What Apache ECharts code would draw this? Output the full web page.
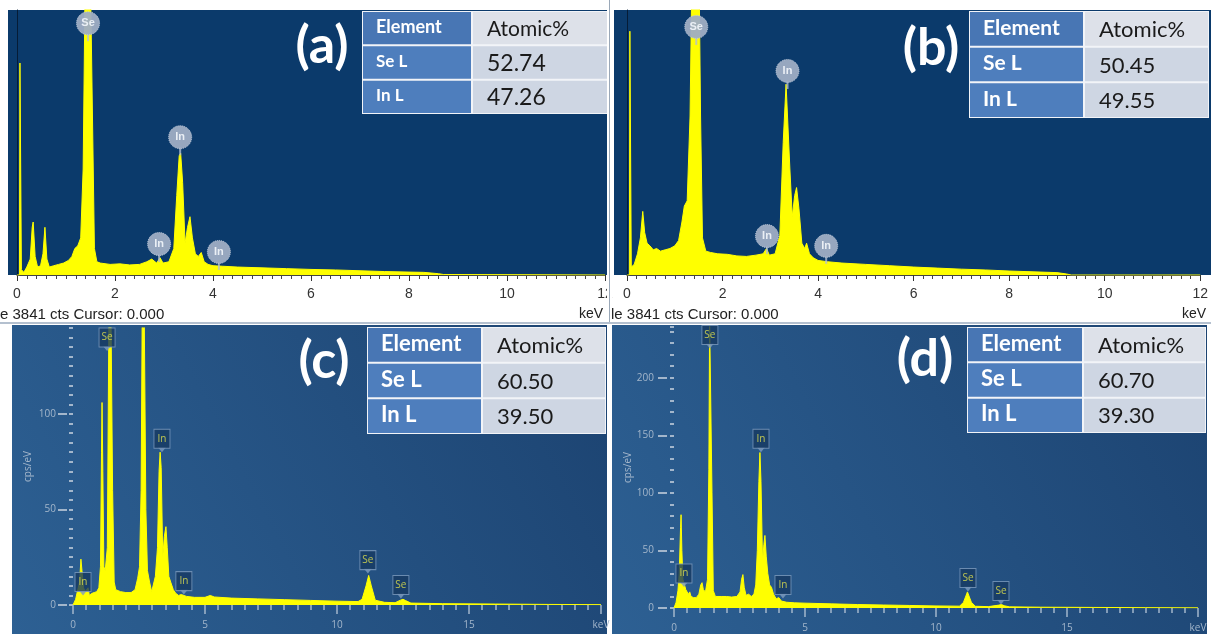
<!DOCTYPE html>
<html>
<head>
<meta charset="utf-8">
<title>EDS spectra (a)-(d)</title>
<script src="https://cdn.jsdelivr.net/npm/echarts@6.0.0/dist/echarts.min.js"></script>
<style>
    html, body { margin: 0; padding: 0; background: #fff; }
    #main { width: 1211px; height: 634px; }
</style>
</head>
<body>
<div id="main"></div>
<script>
    // spectra: [keV, counts]
    // (a) and (b): relative counts, 100 = top of the plot
    var spectrumA = [
        [0, 0], [0.05, 0], [0.06, 80], [0.08, 80], [0.09, 2], [0.14, 1], [0.2, 3], [0.27, 6], [0.31, 18], [0.33, 20],
        [0.37, 7], [0.42, 3], [0.48, 3.5], [0.53, 8], [0.57, 18], [0.61, 6], [0.66, 3], [0.75, 3.5],
        [0.85, 4], [0.95, 4.5], [1.05, 5.5], [1.12, 7], [1.18, 10], [1.24, 11], [1.3, 14], [1.35, 40],
        [1.39, 110], [1.5, 110], [1.54, 60], [1.58, 10], [1.63, 5], [1.7, 4.5], [1.9, 4], [2.1, 4.2],
        [2.3, 3.8], [2.5, 4], [2.65, 5], [2.75, 6], [2.85, 4.5], [2.92, 6.5], [2.98, 4.5], [3.1, 5],
        [3.2, 10], [3.26, 30], [3.31, 45], [3.34, 46], [3.38, 35], [3.43, 12], [3.48, 18], [3.53, 22],
        [3.58, 14], [3.64, 8], [3.7, 7], [3.76, 8.5], [3.82, 5], [3.9, 4], [4.0, 3.5], [4.2, 3.3],
        [4.5, 3], [5, 2.7], [5.5, 2.4], [6, 2.1], [6.5, 1.9], [7, 1.6], [7.5, 1.3], [8, 1.1],
        [8.3, 1], [8.6, 0.5], [8.7, 0.2], [12, 0]
    ];
    var spectrumB = [
        [0, 0], [0.05, 0], [0.06, 92], [0.08, 92], [0.09, 3], [0.15, 4], [0.22, 8], [0.28, 14], [0.33, 24],
        [0.37, 16], [0.42, 12], [0.48, 11], [0.55, 9.5], [0.62, 10], [0.7, 9], [0.8, 9.5], [0.9, 10],
        [1.0, 11], [1.08, 13], [1.15, 20], [1.2, 26], [1.26, 28], [1.32, 60], [1.37, 130], [1.5, 130],
        [1.54, 60], [1.58, 14], [1.65, 9], [1.75, 8.5], [1.9, 8], [2.1, 7.8], [2.3, 7.2], [2.5, 7],
        [2.7, 7.5], [2.85, 8], [2.92, 10], [2.98, 7.5], [3.1, 8], [3.2, 15], [3.27, 50], [3.33, 72],
        [3.37, 72], [3.41, 40], [3.46, 22], [3.51, 30], [3.55, 33], [3.6, 25], [3.66, 12], [3.72, 10],
        [3.76, 12], [3.82, 8], [3.9, 6.5], [4.0, 5.5], [4.2, 5], [4.5, 4.5], [5, 4], [5.5, 3.5],
        [6, 3], [6.5, 2.6], [7, 2.2], [7.5, 1.9], [8, 1.5], [8.5, 1.2], [9, 0.9], [9.2, 0.4],
        [9.3, 0], [12, 0]
    ];
    // (c) and (d): cps/eV
    var spectrumC = [
        [0, 0], [0.1, 3], [0.18, 8], [0.25, 12], [0.3, 24], [0.34, 18], [0.4, 9], [0.46, 7], [0.52, 6],
        [0.57, 9], [0.62, 5], [0.7, 6], [0.8, 6.5], [0.9, 7], [0.98, 9], [1.04, 20], [1.08, 80],
        [1.1, 106], [1.13, 70], [1.17, 20], [1.22, 18], [1.3, 30], [1.36, 150], [1.44, 150], [1.5, 60],
        [1.56, 12], [1.62, 8], [1.8, 7], [2.0, 6.5], [2.2, 6.5], [2.35, 8], [2.45, 14], [2.52, 20],
        [2.58, 60], [2.62, 150], [2.7, 150], [2.76, 50], [2.82, 18], [2.9, 12], [2.98, 7], [3.05, 8],
        [3.12, 15], [3.2, 30], [3.26, 70], [3.3, 80], [3.34, 72], [3.4, 25], [3.46, 36], [3.52, 41],
        [3.57, 30], [3.63, 15], [3.7, 12], [3.8, 8], [3.9, 6], [4.0, 5], [4.1, 5.5], [4.3, 4.5],
        [4.6, 4], [5.0, 4], [5.2, 5], [5.35, 4.2], [6, 3.6], [7, 3.2], [8, 2.8], [9, 2.4], [10, 2],
        [10.8, 1.8], [10.95, 3], [11.1, 10], [11.2, 15.5], [11.3, 10], [11.45, 2.5], [11.8, 1.4],
        [12.2, 1.2], [12.4, 2.5], [12.5, 3], [12.6, 2.3], [12.8, 1], [14, 0.7], [16, 0.5], [18, 0.3],
        [20, 0.2]
    ];
    var spectrumD = [
        [0, 0], [0.08, 5], [0.15, 15], [0.2, 30], [0.25, 70], [0.27, 81], [0.3, 50], [0.34, 25],
        [0.4, 20], [0.45, 16], [0.5, 17], [0.55, 12], [0.6, 14], [0.65, 10], [0.75, 9], [0.85, 9],
        [0.95, 12], [1.02, 20], [1.07, 22], [1.12, 16], [1.2, 14], [1.28, 25], [1.33, 120], [1.36, 250],
        [1.41, 250], [1.45, 100], [1.5, 15], [1.58, 10], [1.8, 10], [2.0, 10], [2.2, 9.5], [2.4, 10],
        [2.52, 14], [2.58, 25], [2.63, 29], [2.68, 18], [2.75, 11], [2.85, 12], [2.95, 10], [3.05, 12],
        [3.12, 20], [3.18, 50], [3.24, 110], [3.28, 135], [3.32, 110], [3.38, 40], [3.43, 55],
        [3.47, 63], [3.52, 45], [3.58, 30], [3.65, 20], [3.72, 18], [3.8, 12], [3.9, 8], [4.0, 9],
        [4.1, 6], [4.3, 5], [4.6, 4.5], [5, 4.2], [6, 3.6], [7, 3], [8, 2.6], [9, 2.2], [10, 1.8],
        [10.9, 1.6], [11.05, 5], [11.2, 14], [11.35, 5], [11.5, 1.5], [12, 1.2], [12.4, 2.5],
        [12.5, 3], [12.6, 2], [12.8, 1], [14, 0.7], [16, 0.5], [18, 0.3], [20, 0.2]
    ];

    // peak labels: [element, keV, counts at the badge]
    var peaksA = [['Se', 1.45, 95], ['In', 3.33, 52], ['In', 2.9, 11.7], ['In', 4.12, 8.7]];
    var peaksB = [['Se', 1.45, 93.6], ['In', 3.36, 77], ['In', 2.93, 14.7], ['In', 4.17, 11]];
    var peaksC = [['Se', 1.29, 140], ['In', 3.37, 87], ['In', 0.38, 12], ['In', 4.2, 12.5], ['Se', 11.17, 23.5], ['Se', 12.42, 10.5]];
    var peaksD = [['Se', 1.37, 237], ['In', 3.32, 147], ['In', 0.38, 30], ['In', 4.16, 20], ['Se', 11.22, 26], ['Se', 12.48, 14.8]];

    // composition tables
    var tableHead = ['Element', 'Atomic%'];
    var tableA = [['Se L', '52.74'], ['In L', '47.26']];
    var tableB = [['Se L', '50.45'], ['In L', '49.55']];
    var tableC = [['Se L', '60.50'], ['In L', '39.50']];
    var tableD = [['Se L', '60.70'], ['In L', '39.30']];
    var panelNames = ['(a)', '(b)', '(c)', '(d)'];
    var cursorText = ['e 3841 cts Cursor: 0.000', 'le 3841 cts Cursor: 0.000'];

    var YELLOW = '#ffff00';
    var NAVY = '#0b3a6b';
    var chart = echarts.init(document.getElementById('main'));

    // top panels: old-style viewer axis on white strip
    function topX(idx) {
        return {
            gridIndex: idx, type: 'value', min: 0, max: 12, interval: 2,
            axisLine: { show: true, lineStyle: { color: '#444', width: 1 } },
            axisTick: { show: true, length: 6, lineStyle: { color: '#333' } },
            minorTick: { show: true, splitNumber: 10, length: 4, lineStyle: { color: '#444' } },
            axisLabel: { color: '#333', fontSize: 14, fontFamily: 'Liberation Sans', margin: 12 },
            splitLine: { show: false }
        };
    }
    function topY(idx) {
        return {
            gridIndex: idx, type: 'value', min: 0, max: 100,
            axisLine: { show: true, lineStyle: { color: '#061c36' } },
            axisTick: { show: false }, axisLabel: { show: false }, splitLine: { show: false }
        };
    }
    // bottom panels: newer viewer axes
    var axisGrey = '#a3b6cb';
    function botX(idx) {
        return {
            gridIndex: idx, type: 'value', min: 0, max: 20, interval: 5, offset: 2,
            axisLine: { show: false },
            axisTick: { show: true, length: 9, lineStyle: { color: axisGrey, width: 1.5 } },
            minorTick: { show: true, splitNumber: 10, length: 5, lineStyle: { color: axisGrey, width: 1.5 } },
            axisLabel: {
                color: axisGrey, fontSize: 10, fontFamily: 'Open Sans', margin: 13,
                formatter: function (v) { return v === 20 ? 'keV' : v; }
            },
            splitLine: { show: false }
        };
    }
    function botYMinor(idx, max, step, offset, margin) {
        return {
            gridIndex: idx, type: 'value', position: 'left', min: 0, max: max, interval: step, offset: offset,
            name: 'cps/eV', nameLocation: 'middle', nameRotate: 90, nameGap: 34,
            nameTextStyle: { color: axisGrey, fontSize: 10, fontFamily: 'Open Sans' },
            axisLine: { show: false },
            axisTick: { show: true, length: 4, lineStyle: { color: axisGrey, width: 2 } },
            axisLabel: {
                color: axisGrey, fontSize: 10, fontFamily: 'Open Sans', margin: margin,
                formatter: function (v) { return v % 50 === 0 ? v : ''; }
            },
            splitLine: { show: false }
        };
    }
    function botYMajor(idx, max, ticks, offset) {
        return {
            gridIndex: idx, type: 'value', position: 'left', min: 0, max: max, interval: 50, offset: offset,
            axisLine: { show: false },
            axisTick: { show: true, length: 9, customValues: ticks, lineStyle: { color: axisGrey, width: 2 } },
            axisLabel: { show: false }, splitLine: { show: false }
        };
    }

    function spectrum(data, xi, yi) {
        return {
            type: 'line', xAxisIndex: xi, yAxisIndex: yi, data: data,
            symbol: 'none', silent: true, clip: true, z: 2,
            lineStyle: { color: YELLOW, width: 1 },
            areaStyle: { color: YELLOW, opacity: 1 }
        };
    }
    function badgeData(peaks) {
        return peaks.map(function (p) { return { name: p[0], value: [p[1], p[2]] }; });
    }
    function badgesRound(peaks, xi, yi) {
        return [{
            // stem from badge down to the peak
            type: 'scatter', xAxisIndex: xi, yAxisIndex: yi, z: 4, silent: true,
            symbol: 'rect', symbolSize: [2, 8], symbolOffset: [0, 14],
            itemStyle: { color: '#b3bfd2' }, data: badgeData(peaks)
        }, {
            type: 'scatter', xAxisIndex: xi, yAxisIndex: yi, z: 5, silent: true,
            symbol: 'circle', symbolSize: 23,
            itemStyle: { color: '#9fadc4', opacity: 0.95, borderColor: '#c3cddc', borderWidth: 1, borderType: 'dotted' },
            label: { show: true, position: 'inside', formatter: '{b}', color: '#eef2f8', fontSize: 11, fontWeight: 'bold', fontFamily: 'Liberation Sans' },
            data: badgeData(peaks)
        }];
    }
    function badgesBox(peaks, xi, yi) {
        return [{
            // small pointer under the box
            type: 'scatter', xAxisIndex: xi, yAxisIndex: yi, z: 4, silent: true,
            symbol: 'triangle', symbolRotate: 180, symbolSize: [8, 5], symbolOffset: [0, 11],
            itemStyle: { color: '#7e9cbf' }, data: badgeData(peaks)
        }, {
            type: 'scatter', xAxisIndex: xi, yAxisIndex: yi, z: 5, silent: true,
            symbol: 'rect', symbolSize: [16, 19],
            itemStyle: { color: '#163a62', borderColor: '#7e9cbf', borderWidth: 1 },
            label: { show: true, position: 'inside', formatter: '{b}', color: '#e4e44c', fontSize: 10, fontFamily: 'Open Sans' },
            data: badgeData(peaks)
        }];
    }

    // a table: box = [x0, y0, x1, y1], split = x of column border
    function table(rows, box, split, f) {
        var all = [tableHead].concat(rows);
        var rh = (box[3] - box[1]) / all.length;
        var els = [{
            type: 'rect', shape: { x: box[0], y: box[1], width: box[2] - box[0], height: box[3] - box[1] },
            style: { fill: '#f2f4f8' }
        }];
        all.forEach(function (r, i) {
            var top = box[1] + i * rh;
            els.push({
                type: 'rect', shape: { x: box[0] + 1, y: top + 1, width: split - box[0] - 2, height: rh - 2 },
                style: { fill: i === 0 ? '#4876b4' : '#4e7ebd' }
            });
            els.push({
                type: 'rect', shape: { x: split + 1, y: top + 1, width: box[2] - split - 2, height: rh - 2 },
                style: { fill: i === 0 ? '#dde1e9' : '#ced6e3' }
            });
            els.push({
                type: 'text', x: box[0] + 14, y: top + rh / 2 - 1,
                style: {
                    text: r[0], fill: '#fff', fontFamily: 'Lato', fontWeight: 'bold',
                    fontSize: i === 0 ? f[0] : f[1], verticalAlign: 'middle'
                }
            });
            els.push({
                type: 'text', x: split + 15, y: top + rh / 2 + 1,
                style: {
                    text: r[1], fill: '#1a1a1a', fontFamily: 'Lato',
                    fontSize: i === 0 ? f[2] : f[3], verticalAlign: 'middle'
                }
            });
        });
        return { type: 'group', z: 20, children: els };
    }
    function letter(txt, x, y) {
        return {
            type: 'text', z: 20, x: x, y: y,
            style: { text: txt, fill: '#fff', fontFamily: 'Lato', fontWeight: 'bold', fontSize: 52, align: 'center', verticalAlign: 'middle' }
        };
    }
    function plainText(txt, x, y, size) {
        return {
            type: 'text', z: 20, x: x, y: y,
            style: { text: txt, fill: '#222', fontFamily: 'Liberation Sans', fontSize: size, verticalAlign: 'middle' }
        };
    }
    var bottomFill = {
        type: 'linear', x: 0, y: 1, x2: 1, y2: 0,
        colorStops: [{ offset: 0, color: '#2d6093' }, { offset: 1, color: '#1c4371' }]
    };

    var option = {
        backgroundColor: '#fff',
        animation: false,
        grid: [
            { left: 17, top: 10, width: 588, height: 265 },
            { left: 627, top: 10, width: 578, height: 265 },
            { left: 73, top: 328, width: 528, height: 277 },
            { left: 674, top: 327, width: 524, height: 281 }
        ],
        xAxis: [topX(0), topX(1), botX(2), botX(3)],
        yAxis: [
            topY(0), topY(1),
            botYMinor(2, 145, 5, 6, 11), botYMajor(2, 145, [0, 50, 100], 6),
            botYMinor(3, 244, 10, 7, 13), botYMajor(3, 244, [0, 50, 100, 150, 200], 7)
        ],
        series: [].concat(
            spectrum(spectrumA, 0, 0), badgesRound(peaksA, 0, 0),
            spectrum(spectrumB, 1, 1), badgesRound(peaksB, 1, 1),
            spectrum(spectrumC, 2, 2), badgesBox(peaksC, 2, 2),
            spectrum(spectrumD, 3, 4), badgesBox(peaksD, 3, 4)
        ),
        graphic: [
            // panel backgrounds
            { type: 'rect', z: -10, shape: { x: 8, y: 10, width: 599, height: 265 }, style: { fill: NAVY } },
            { type: 'rect', z: -10, shape: { x: 614, y: 10, width: 597, height: 265 }, style: { fill: NAVY } },
            { type: 'rect', z: -10, shape: { x: 12, y: 325, width: 595, height: 309 }, style: { fill: bottomFill } },
            { type: 'rect', z: -10, shape: { x: 612, y: 325, width: 595, height: 309 }, style: { fill: bottomFill } },
            // divider between (a) and (b)
            { type: 'rect', z: 15, shape: { x: 607, y: 0, width: 5, height: 323 }, style: { fill: '#fff' } },
            { type: 'rect', z: 16, shape: { x: 609, y: 0, width: 1, height: 323 }, style: { fill: '#9aa8b8' } },
            { type: 'rect', z: 16, shape: { x: 0, y: 322, width: 1211, height: 2 }, style: { fill: '#b4c0cf' } },
            plainText(cursorText[0], 0, 315, 15),
            plainText(cursorText[1], 611, 315, 15),
            plainText('keV', 579, 314, 14),
            plainText('keV', 1182, 314, 14),
            letter(panelNames[0], 322, 46),
            letter(panelNames[1], 931, 48),
            letter(panelNames[2], 324, 361),
            letter(panelNames[3], 925, 359),
            table(tableA, [362, 11, 609, 114], 472, [18, 17, 21, 23]),
            table(tableB, [969, 11, 1209, 118], 1084, [21, 21, 22, 22]),
            table(tableC, [367, 327, 606, 434], 482, [22, 22, 22, 22]),
            table(tableD, [967, 327, 1206, 433], 1083, [22, 22, 22, 22])
        ]
    };

    chart.setOption(option);
</script>
</body>
</html>
